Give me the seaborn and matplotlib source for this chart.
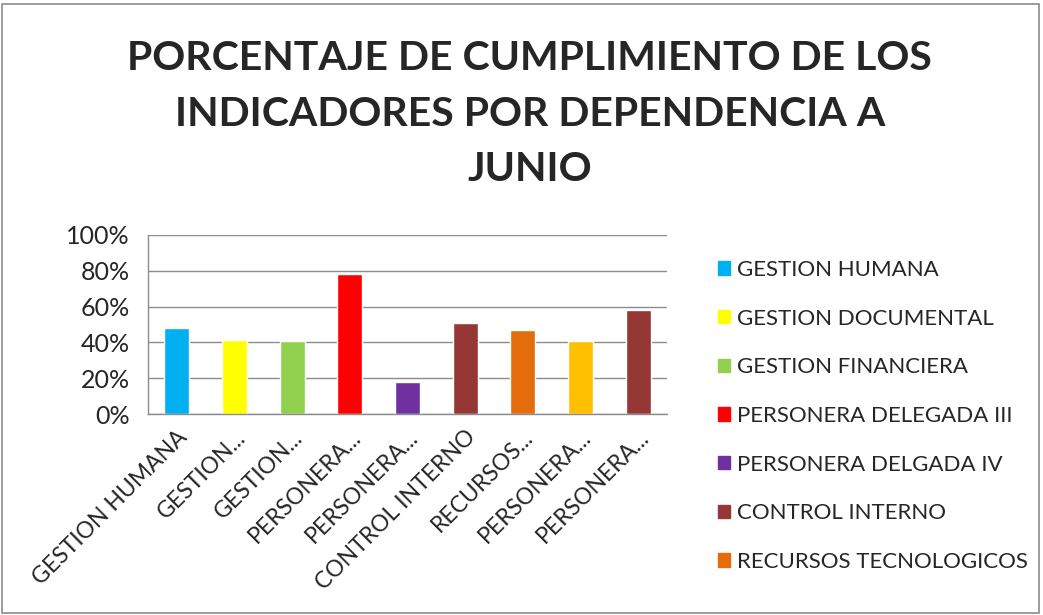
import matplotlib
matplotlib.use("Agg")
import matplotlib.pyplot as plt
import matplotlib.ticker as mtick
from matplotlib.patches import Rectangle
import seaborn as sns
import pandas as pd

dependencias = ["GESTION HUMANA", "GESTION DOCUMENTAL", "GESTION FINANCIERA",
                "PERSONERA DELEGADA III", "PERSONERA DELGADA IV", "CONTROL INTERNO",
                "RECURSOS TECNOLOGICOS", "PERSONERA DELEGADA I", "PERSONERA DELEGADA II"]
etiquetas = ["GESTION HUMANA", "GESTION...", "GESTION...", "PERSONERA...", "PERSONERA...",
             "CONTROL INTERNO", "RECURSOS...", "PERSONERA...", "PERSONERA..."]
cumplimiento = [0.48, 0.415, 0.41, 0.78, 0.18, 0.51, 0.47, 0.41, 0.58]
colores = ["#00B0F0", "#FFFF00", "#92D050", "#FF0000", "#7030A0",
           "#953735", "#E46C0A", "#FFC000", "#953735"]

sns.set_style("white")
plt.rcParams['font.family'] = ['Lato', 'DejaVu Sans']

df = pd.DataFrame({"dep": dependencias, "pct": cumplimiento})

fig = plt.figure(figsize=(10.43, 6.15), dpi=100)
ax = fig.add_axes([148 / 1043, 1 - 414 / 615, (667 - 148) / 1043, (414 - 235) / 615])

sns.barplot(data=df, x="dep", y="pct", hue="dep", palette=colores, width=0.43,
            legend=False, ax=ax, saturation=1)

ax.set_ylim(0, 1)
ax.set_xlim(-0.5, len(dependencias) - 0.5)
ax.yaxis.set_major_locator(mtick.MultipleLocator(0.2))
ax.yaxis.set_major_formatter(mtick.PercentFormatter(1.0, decimals=0))
ax.grid(axis="y", color="#8C8C8C", linewidth=1)
ax.set_axisbelow(True)
ax.set_xlabel("")
ax.set_ylabel("")

for s in ["top", "right"]:
    ax.spines[s].set_visible(False)
for s in ["left", "bottom"]:
    ax.spines[s].set_color("#8C8C8C")
    ax.spines[s].set_linewidth(1)

ax.set_xticks(range(len(etiquetas)))
ax.set_xticklabels(etiquetas, rotation=45, ha="right", rotation_mode="anchor", fontsize=16.5)
ax.tick_params(axis="x", length=0, pad=9)
ax.set_xticks([i - 0.5 for i in range(len(etiquetas) + 1)], minor=True)
ax.tick_params(axis="x", which="minor", length=6, color="#8C8C8C", direction="out")
ax.tick_params(axis="y", length=0, labelsize=18, pad=13)

# leyenda: solo caben las primeras 7 entradas, como en el original
handles = [Rectangle((0, 0), 1, 1, color=c) for c in colores[:7]]
fig.legend(handles, dependencias[:7], loc="upper left", bbox_to_anchor=(709 / 1043, 1 - 251 / 615),
           frameon=False, fontsize=16, handlelength=0.55, handleheight=0.55,
           handletextpad=0.3, labelspacing=1.29, borderaxespad=0)

fig.text(0.508, 1 - 40 / 615,
         "PORCENTAJE DE CUMPLIMIENTO DE LOS\nINDICADORES POR DEPENDENCIA A\nJUNIO",
         ha="center", va="top", fontsize=29.5, fontweight="bold", linespacing=1.62)

fig.patches.append(Rectangle((0.002, 0.004), 0.994, 0.99, transform=fig.transFigure,
                             fill=False, edgecolor="#8C8C8C", linewidth=1.2))

fig.savefig("out.png", dpi=100)
